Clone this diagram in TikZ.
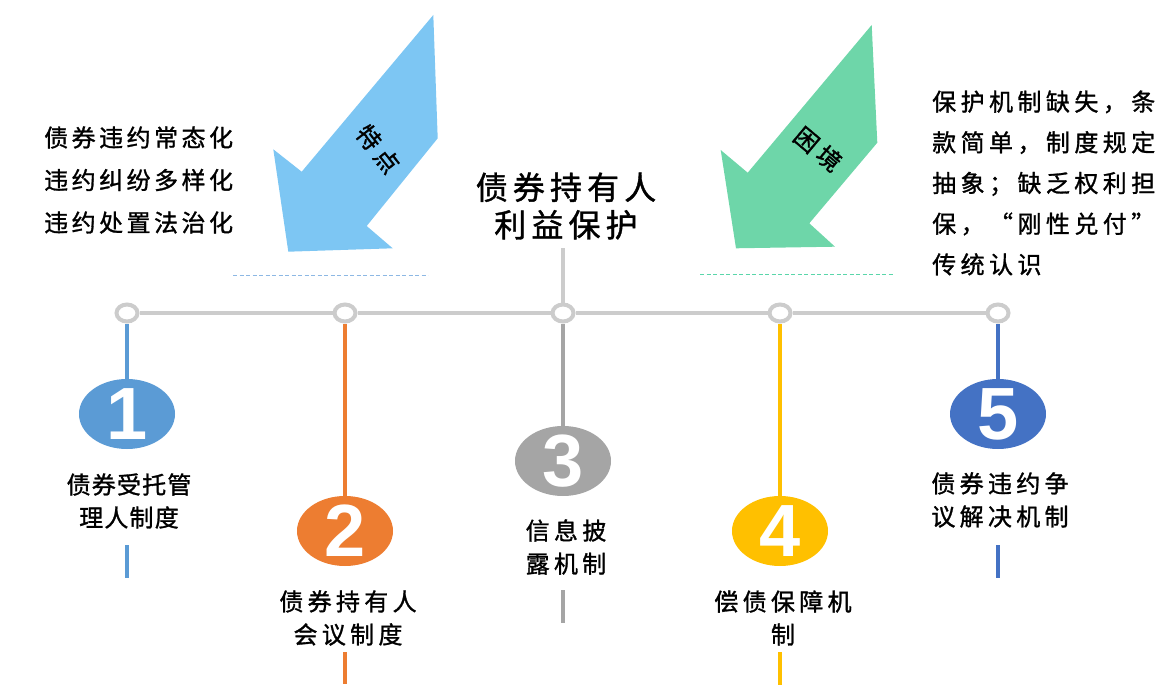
\documentclass[tikz,border=0pt]{standalone}
\usepackage{fontspec}
\usetikzlibrary{shapes.geometric,backgrounds}
\newfontfamily\cjk{Noto Sans CJK SC}
\newfontfamily\numfont{Liberation Sans}
\definecolor{ringgray}{HTML}{CCCCCC}
\definecolor{cA}{HTML}{5B9BD5}
\definecolor{cB}{HTML}{ED7D31}
\definecolor{cC}{HTML}{A5A5A5}
\definecolor{cD}{HTML}{FFC000}
\definecolor{cE}{HTML}{4472C4}
\definecolor{arrowblue}{HTML}{7DC6F3}
\definecolor{arrowgreen}{HTML}{6ED6A9}
\definecolor{dashblue}{HTML}{8DB8E4}
\definecolor{dashgreen}{HTML}{5AD6AA}
\newcommand\cjkfont[3]{\cjk\fontsize{#1}{#2}\selectfont\addfontfeature{LetterSpace=#3,FakeBold=1.2}}
\tikzset{
  ring/.style={ellipse,draw=ringgray,line width=4pt,fill=white,minimum width=21pt,minimum height=17pt,inner sep=0pt},
  bigdot/.style={ellipse,fill=#1,minimum width=96pt,minimum height=70pt,inner sep=0pt},
  numlab/.style={text=white,font=\numfont\bfseries\fontsize{74}{74}\selectfont,inner sep=0pt},
  colline/.style={draw=#1,line width=4.5pt},
  collabel/.style={align=center,inner sep=0pt,font=\cjkfont{24}{33}{18}},
  arrowlabel/.style={inner sep=0pt,font=\cjkfont{24}{24}{22}},
  hline/.style={draw=ringgray,line width=4.5pt},
  dashline/.style={draw=#1,line width=1pt,dash pattern=on 4pt off 2.5pt},
}
\begin{document}
\begin{tikzpicture}[x=1pt,y=-1pt]
\useasboundingbox (0,0) rectangle (1171,698);
% arrows
\fill[arrowblue] (433.3,15) -- (437.7,138.3) -- (366.7,226) -- (392.7,248.3) -- (288.3,251.7) -- (273.3,149.3) -- (301.7,171.7) -- cycle;
\fill[arrowgreen] (871.7,25) -- (877.3,142.7) -- (809.3,223.3) -- (835,246.7) -- (736,248.3) -- (720.7,150) -- (747.7,172.7) -- cycle;
\node[arrowlabel,rotate=-52] (tedian) at (378,149) {特点};
\node[arrowlabel,rotate=-40] (kunjing) at (818,149) {困境};
% text blocks
\node[anchor=west,align=left,inner sep=0pt,font=\cjkfont{24}{42.5}{14.5}] (left) at (44,180) {债券违约常态化\\违约纠纷多样化\\违约处置法治化};
\node[anchor=west,align=left,inner sep=0pt,font=\cjkfont{24}{40.7}{18.5}] (right) at (932,183) {保护机制缺失，条\\款简单，制度规定\\抽象；缺乏权利担\\保，“刚性兑付”\\传统认识};
\node[align=center,inner sep=0pt,font=\cjkfont{32}{37.5}{16}] (title) at (566,206) {债券持有人\\利益保护};
% dashed lines
\coordinate (dl1) at (233,275); \coordinate (dl2) at (428,275);
\coordinate (dr1) at (700,274); \coordinate (dr2) at (893,274);
\draw[dashline=dashblue] (dl1) -- (dl2);
\draw[dashline=dashgreen] (dr1) -- (dr2);
% rings
\node[ring] (r1) at (127,313) {};
\node[ring] (r2) at (345,313) {};
\node[ring] (r3) at (563,313) {};
\node[ring] (r4) at (780,313) {};
\node[ring] (r5) at (998,313) {};
\coordinate (top) at (563,248);
% big dots
\node[bigdot=cA,label={[numlab]center:1}] (c1) at (127,414) {};
\node[bigdot=cB,label={[numlab]center:2}] (c2) at (345,531) {};
\node[bigdot=cC,label={[numlab]center:3}] (c3) at (563,461) {};
\node[bigdot=cD,label={[numlab]center:4}] (c4) at (780,531) {};
\node[bigdot=cE,label={[numlab]center:5}] (c5) at (998,414) {};
% labels
\node[collabel,font=\cjkfont{24}{33}{5}] (l1) at (129,501) {债券受托管\\理人制度};
\node[collabel] (l2) at (348,618) {债券持有人\\会议制度};
\node[collabel] (l3) at (566,547) {信息披\\露机制};
\node[collabel] (l4) at (783,618) {偿债保障机\\制};
\node[collabel] (l5) at (1000,500) {债券违约争\\议解决机制};
% bottom stubs
\coordinate (b1a) at (127,545); \coordinate (b1b) at (127,578);
\coordinate (b2a) at (345,652); \coordinate (b2b) at (345,684);
\coordinate (b3a) at (563,590); \coordinate (b3b) at (563,623);
\coordinate (b4a) at (780,652); \coordinate (b4b) at (780,685);
\coordinate (b5a) at (998,545); \coordinate (b5b) at (998,578);
\draw[colline=cA] (b1a) -- (b1b);
\draw[colline=cB] (b2a) -- (b2b);
\draw[colline=cC] (b3a) -- (b3b);
\draw[colline=cD] (b4a) -- (b4b);
\draw[colline=cE] (b5a) -- (b5b);
\begin{scope}[on background layer]
\draw[hline] (r1) -- (r2);
\draw[hline] (r2) -- (r3);
\draw[hline] (r3) -- (r4);
\draw[hline] (r4) -- (r5);
\draw[hline] (top) -- (r3);
\draw[colline=cA] (r1) -- (c1);
\draw[colline=cB] (r2) -- (c2);
\draw[colline=cC] (r3) -- (c3);
\draw[colline=cD] (r4) -- (c4);
\draw[colline=cE] (r5) -- (c5);
\end{scope}
\end{tikzpicture}
\end{document}
